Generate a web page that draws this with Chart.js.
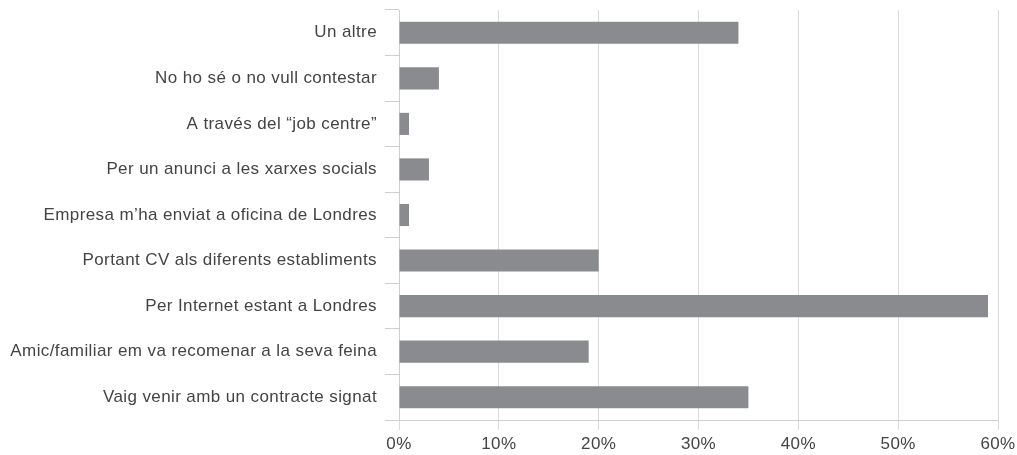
<!DOCTYPE html>
<html>
<head>
<meta charset="utf-8">
<script src="https://cdn.jsdelivr.net/npm/chart.js@4"></script>
<style>
  html, body { margin: 0; padding: 0; background: #fff; }
  #wrap { width: 1017px; height: 455px; }
</style>
</head>
<body>
<div id="wrap"><canvas id="jobChart"></canvas></div>
<script>
// categories, top to bottom as shown
const categories = [
  'Un altre',
  'No ho sé o no vull contestar',
  'A través del \u201cjob centre\u201d',
  'Per un anunci a les xarxes socials',
  'Empresa m\u2019ha enviat a oficina de Londres',
  'Portant CV als diferents establiments',
  'Per Internet estant a Londres',
  'Amic/familiar em va recomenar a la seva feina',
  'Vaig venir amb un contracte signat'
];
// percentage of answers
const percentages = [34, 4, 1, 3, 1, 20, 59, 19, 35];
const xTicks = [0, 10, 20, 30, 40, 50, 60];

const font = { family: "'Liberation Sans', Arial, sans-serif", size: 17 };

// the original uses a wide light sans, so open the letters a little
const spacing = {
  id: 'spacing',
  beforeDraw(chart) { chart.ctx.letterSpacing = '0.4px'; }
};

const ctx = document.getElementById('jobChart').getContext('2d');

const jobChart = new Chart(ctx, {
  type: 'bar',
  data: {
    labels: categories,
    datasets: [{
      data: percentages,
      backgroundColor: '#8a8b8e',
      borderWidth: 0,
      barPercentage: 0.97,
      categoryPercentage: 0.5
    }]
  },
  options: {
    indexAxis: 'y',
    responsive: true,
    maintainAspectRatio: false,
    animation: false,
    layout: { padding: { top: 10, right: 19, left: 0, bottom: 0 } },
    plugins: {
      legend: { display: false },
      tooltip: { enabled: false }
    },
    scales: {
      x: {
        min: 0,
        max: 60,
        afterBuildTicks: (scale) => { scale.ticks = xTicks.map(v => ({ value: v })); },
        afterFit: (scale) => {
          scale.height = 35;
          scale.paddingLeft = 0;
          scale.paddingRight = 0;
        },
        grid: { color: '#dadada', lineWidth: 1, tickLength: 10 },
        border: { color: '#cfcfcf' },
        ticks: {
          padding: 4,
          color: '#444',
          font: font,
          callback: (v) => v + '%'
        }
      },
      y: {
        afterFit: (scale) => {
          scale.width = 399;
          scale.paddingTop = 0;
          scale.paddingBottom = 0;
        },
        grid: { drawOnChartArea: false, offset: true, color: '#cfcfcf', tickLength: 14 },
        border: { color: '#cfcfcf' },
        ticks: { padding: 8, color: '#444', font: font, autoSkip: false }
      }
    }
  },
  plugins: [spacing]
});
</script>
</body>
</html>
